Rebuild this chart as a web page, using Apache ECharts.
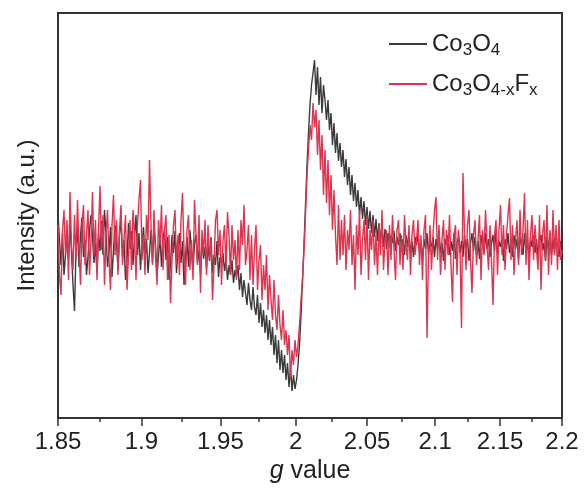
<!DOCTYPE html>
<html>
<head>
<meta charset="utf-8">
<script src="https://cdn.jsdelivr.net/npm/echarts@6/dist/echarts.min.js"></script>
<style>
  html, body { margin: 0; padding: 0; background: #fff; }
  #chart { width: 585px; height: 492px; }
</style>
</head>
<body>
<div id="chart"></div>
<script>
// EPR sweep: spectra recorded on an even field grid between g = 1.85 and g = 2.2
const G_START = 1.85;
const G_END = 2.2;

// Major and minor g-value ticks of the bottom axis
const tickG = [1.85, 1.9, 1.95, 2.0, 2.05, 2.1, 2.15, 2.2];
const minorG = [1.875, 1.925, 1.975, 2.025, 2.075, 2.125, 2.175];

// Intensity (a.u.) of pristine Co3O4 along the sweep
const co3o4 = [
  31, 5, -20, 12, -30, -10, 8, -15, 22, -8,
  -40, -66, -5, 18, -22, 10, 28, -12, 5, -30,
  -12, 15, 30, 8, -18, 2, -28, 12, -6, 24,
  -10, 35, 12, -22, -8, 18, -32, -5, 20, 4,
  -25, 10, 26, -12, 5, -35, -15, 22, -4, 14,
  -20, 8, 30, -10, 12, -25, 2, 18, -15, 6,
  -28, -8, 15, -18, 20, 0, -30, -12, 10, -22,
  5, 16, -15, 8, -35, -20, 10, -8, 14, -28,
  -5, 12, -18, 4, -40, -10, 8, -22, 15, -6,
  -25, 2, 10, -18, -5, -30, 6, -14, -2, -24,
  0, -16, 8, -28, -10, -20, 4, -32, -12, -18,
  -8, -26, -14, -35, -20, -30, -15, -38, -25, -32,
  -20, -45, -28, -52, -35, -48, -60, -38, -55, -65,
  -42, -62, -70, -50, -78, -58, -82, -65, -88, -70,
  -95, -75, -100, -82, -110, -90, -118, -95, -125, -105,
  -128, -110, -135, -118, -142, -122, -146, -130, -144, -135,
  -120, -100, -70, -35, 0, 40, 80, 112, 140, 160,
  172, 185, 150, 178, 140, 168, 132, 160, 145, 125,
  145, 115, 132, 100, 122, 92, 112, 84, 102, 78,
  95, 68, 86, 60, 78, 50, 70, 44, 62, 38,
  55, 30, 48, 26, 44, 20, 38, 16, 34, 12,
  30, 8, 26, 4, 22, 2, 20, -2, 16, -4,
  12, -2, 10, 2, 14, -6, 8, 0, 12, -4,
  6, -10, 10, -2, 12, -8, 4, -12, 8, 0,
  10, -6, 2, -14, 6, -4, 12, -10, 4, -2,
  8, -12, 6, -4, 14, -8, 2, -16, 6, 0,
  10, -10, 4, -6, 12, -14, 2, 8, -8, 4,
  -12, 10, -4, 6, -16, 2, 12, -6, 8, -10,
  4, -14, 10, 0, -8, 12, -4, 6, -12, 2,
  10, -6, 14, -10, 4, -2, 8, -16, 6, -4,
  12, -8, 2, -12, 10, -4, 6, -14, 8, 0,
  -10, 12, -6, 4, -14, 8, -2, 10, -8, 6,
  -12, 4, 10, -6, 2, -16, 8, -4, 12, -10,
  6, -8, 10, -2, -12, 4, -4
];

// Intensity (a.u.) of fluorine-doped Co3O4-xFx along the same sweep
const co3o4F = [
  20, -30, -50, 15, 35, -10, 25, -35, 53, 0,
  -25, 30, -15, 45, -5, -40, 20, 40, -20, 10,
  35, -30, 5, 53, -10, 25, -35, 15, 59, -5,
  30, -40, 10, 35, -15, -45, 20, 50, -10, 25,
  -30, 15, 40, -20, 5, 30, -45, -10, 25, -25,
  35, 10, -35, 20, 45, 65, -15, 10, -30, 30,
  5, 85, 20, -20, 35, -10, -40, 25, 0, 40,
  -25, 15, 30, -35, 10, -58, -15, 20, 35, -20,
  10, -30, 25, 52, -5, -40, 15, 30, -25, 5,
  -35, 45, 10, -20, 30, -48, 15, -10, 25, -30,
  20, -15, 5, -55, -20, 25, 35, -10, 15, -40,
  5, 20, -25, 33, 10, -30, 20, -15, 5, -35,
  15, -25, 25, 0, 40, -20, -5, 20, -35, 10,
  -40, -5, 20, -45, -15, 0, -55, -20, -45, -10,
  -65, -30, -55, -75, -35, -70, -85, -50, -80, -95,
  -65, -100, -85, -110, -90, -133, -105, -120, -95, -112,
  -100, -80, -55, -35, -5, 30, 70, 95, 120, 105,
  142, 118, 135, 90, 125, 75, 110, 50, 95, 42,
  85, 30, 70, 15, 55, 10, -20, 40, -15, 25,
  -10, 30, -25, 15, -5, 35, -20, 10, -45, 20,
  -10, 35, -30, 5, 25, -15, 30, -35, 15, -5,
  25, -20, 10, -30, 20, -10, 35, -25, 5, 15,
  -30, 20, -15, 30, -5, -35, 15, 25, -20, 10,
  -25, 30, 0, -15, 20, -30, 10, 25, -10, 5,
  25, -20, 10, -35, 15, 30, -93, -10, 20, -25,
  10, 35, 48, -15, 20, -30, 5, 25, -25, 15,
  -10, 30, -20, -57, 10, 20, -30, 15, -5, -83,
  72, 10, -25, 20, 35, -15, -48, 10, 25, -20,
  5, 30, -35, 15, -10, 35, 0, -25, 20, -15,
  -60, 10, 25, -30, 15, 40, -10, 20, -25, 10,
  30, 47, -15, 20, -30, 5, 25, -20, 35, -10,
  15, 52, -20, 25, -35, 10, 30, -15, 20, -5,
  -25, 30, -45, 10, 25, -15, 40, -30, 15, -20,
  35, -10, 20, -25, 25, -15, -5
];

// The abscissa is linear in magnetic field, i.e. in 1/g
const inv = g => 1 / g;
const X_MIN = inv(G_END);
const X_MAX = inv(G_START);

function toPairs(values) {
  const n = values.length;
  return values.map((v, i) => [X_MAX + (X_MIN - X_MAX) * i / (n - 1), v]);
}

const FONT = 'Liberation Sans, Arial, sans-serif';
const AXIS_COLOR = '#333';
const TEXT_COLOR = '#222';

// Chemical formula as rich text: normal runs and subscript runs alternate
function formula(parts) {
  return parts.map((p, k) => (k % 2 === 0 ? '{n|' : '{s|') + p + '}').join('');
}

const chart = echarts.init(document.getElementById('chart'), null, { renderer: 'canvas' });

chart.setOption({
  animation: false,
  backgroundColor: '#fff',
  grid: {
    left: 58, right: 23, top: 13, bottom: 74,
    show: true, borderColor: AXIS_COLOR, borderWidth: 2, backgroundColor: 'transparent'
  },
  legend: {
    orient: 'vertical',
    left: 384,
    top: 27,
    icon: 'rect',
    itemWidth: 38,
    itemHeight: 2,
    itemGap: 13,
    data: ['Co3O4', 'Co3O4-xFx'],
    formatter: name => name === 'Co3O4'
      ? formula(['Co', '3', 'O', '4'])
      : formula(['Co', '3', 'O', '4-x', 'F', 'x']),
    textStyle: {
      fontFamily: FONT,
      color: TEXT_COLOR,
      rich: {
        n: { fontFamily: FONT, fontSize: 24, color: TEXT_COLOR, lineHeight: 30, verticalAlign: 'middle' },
        s: { fontFamily: FONT, fontSize: 17, color: TEXT_COLOR, lineHeight: 30, verticalAlign: 'bottom' }
      }
    }
  },
  xAxis: [
    {
      type: 'value',
      inverse: true,
      min: X_MIN,
      max: X_MAX,
      name: '{i|g} value',
      nameLocation: 'middle',
      nameGap: 38,
      nameTextStyle: {
        fontFamily: FONT, fontSize: 25, color: TEXT_COLOR,
        rich: { i: { fontFamily: FONT, fontSize: 25, fontStyle: 'italic', color: TEXT_COLOR } }
      },
      axisLine: { show: true, onZero: false, lineStyle: { color: AXIS_COLOR, width: 2 } },
      axisTick: {
        show: true, customValues: tickG.map(inv), length: 8,
        lineStyle: { color: AXIS_COLOR, width: 1.5 }
      },
      axisLabel: {
        show: true, customValues: tickG.map(inv), margin: 12,
        fontFamily: FONT, fontSize: 24, color: TEXT_COLOR,
        formatter: v => String(+(1 / v).toFixed(2))
      },
      splitLine: { show: false }
    },
    {
      type: 'value',
      inverse: true,
      min: X_MIN,
      max: X_MAX,
      position: 'bottom',
      axisLine: { show: false, onZero: false },
      axisTick: {
        show: true, customValues: minorG.map(inv), length: 4,
        lineStyle: { color: AXIS_COLOR, width: 1.5 }
      },
      axisLabel: { show: false },
      splitLine: { show: false }
    }
  ],
  yAxis: {
    type: 'value',
    min: -173,
    max: 232,
    name: 'Intensity (a.u.)',
    nameLocation: 'middle',
    nameGap: 19,
    nameTextStyle: { fontFamily: FONT, fontSize: 24, color: TEXT_COLOR },
    axisLine: { show: true, onZero: false, lineStyle: { color: AXIS_COLOR, width: 2 } },
    axisTick: { show: false },
    axisLabel: { show: false },
    splitLine: { show: false }
  },
  series: [
    {
      name: 'Co3O4',
      type: 'line',
      xAxisIndex: 0,
      data: toPairs(co3o4),
      showSymbol: false,
      sampling: 'none',
      lineStyle: { color: '#3b3b3b', width: 1.4 },
      itemStyle: { color: '#3b3b3b' }
    },
    {
      name: 'Co3O4-xFx',
      type: 'line',
      xAxisIndex: 0,
      data: toPairs(co3o4F),
      showSymbol: false,
      sampling: 'none',
      lineStyle: { color: '#de3450', width: 1.4 },
      itemStyle: { color: '#de3450' }
    }
  ]
});
</script>
</body>
</html>
